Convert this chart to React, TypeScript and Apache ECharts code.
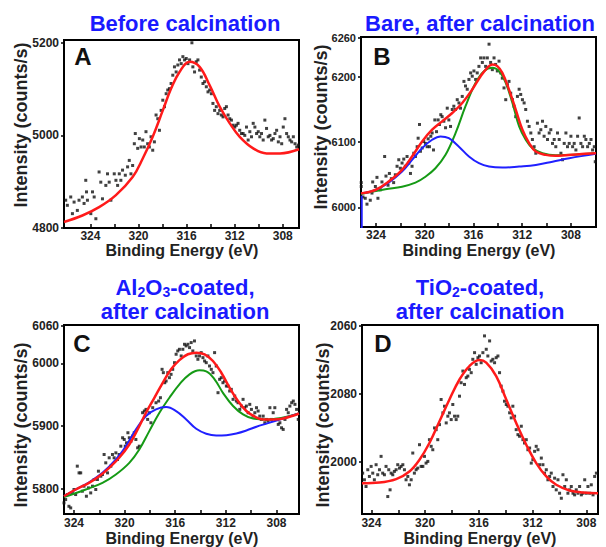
import React, { useEffect, useRef } from "react";
import * as echarts from "echarts";

// ---------- DATA ----------
const A_TITLE = "Before calcination";
const B_TITLE = "Bare, after calcination";
const C_TITLE = "{n|Al}{s|2}{n|O}{s|3}{n|-coated,}\n{n|after calcination}";
const D_TITLE = "{n|TiO}{s|2}{n|-coated,}\n{n|after calcination}";
const X_NAME = "Binding Energy (eV)";
const Y_NAME = "Intensity (counts/s)";
const LETTERS = ["A", "B", "C", "D"];

const X_LABEL_VALUES = [308, 312, 316, 320, 324];
const X_TICK_VALUES = [308, 310, 312, 314, 316, 318, 320, 322, 324];

const A_Y_TICKS = [4800, 5000, 5200];
const B_Y_TICKS = [6000, 6100, 6200, 6260];
const C_Y_TICKS = [5800, 5900, 6000, 6060];
const D_Y_TICK_VALUES = [2000, 2080, 2160];
const D_Y_TICK_LABELS = ["2000", "2080", "2060"];

const A_POINTS = [
  [326.06,4860],[325.92,4849],[325.64,4867],[325.5,4831],[325.36,4856],[325.09,4838],[324.95,4860],[324.67,4867],[324.53,4853],[324.39,4903],[324.33,4878],[324.25,4860],[323.97,4831],[323.83,4878],[323.69,4867],[323.55,4820],[323.28,4921],[323.14,4899],[323.0,4863],[322.72,4892],[322.58,4917],[322.44,4899],[322.3,4860],[322.02,4917],[321.88,4903],[321.74,4892],[321.6,4917],[321.47,4903],[321.33,4925],[321.1,4914],[320.91,4932],[320.77,4946],[320.63,4917],[320.49,4935],[320.35,4982],[320.27,5004],[320.07,4972],[319.93,4993],[319.79,4975],[319.65,4990],[319.52,4975],[319.38,5008],[319.24,4982],[319.1,4975],[318.96,4997],[318.82,4968],[318.68,4986],[318.54,5044],[318.4,5036],[318.26,5011],[318.12,5054],[317.98,5076],[317.84,5062],[317.7,5090],[317.57,5098],[317.43,5101],[317.29,5112],[317.15,5130],[317.01,5148],[316.87,5137],[316.73,5152],[316.59,5163],[316.45,5155],[316.31,5170],[316.17,5163],[316.03,5166],[315.89,5155],[315.75,5163],[315.56,5200],[315.48,5148],[315.34,5137],[315.2,5159],[315.06,5163],[314.92,5141],[314.78,5126],[314.64,5112],[314.5,5116],[314.36,5105],[314.22,5094],[314.08,5098],[313.94,5090],[313.81,5069],[313.67,5054],[313.53,5062],[313.39,5047],[313.25,5054],[313.11,5044],[312.97,5040],[312.83,5058],[312.69,5062],[312.55,5044],[312.41,5036],[312.27,5033],[312.13,5022],[311.99,5018],[311.86,5022],[311.72,5026],[311.58,5011],[311.44,5004],[311.3,5004],[311.16,5000],[311.02,5018],[310.88,4990],[310.74,5008],[310.6,4997],[310.46,5026],[310.32,5018],[310.18,5004],[310.04,5008],[309.91,4997],[309.77,5004],[309.63,4990],[309.49,5033],[309.35,5015],[309.21,4997],[309.07,5000],[308.93,4990],[308.79,4993],[308.65,5004],[308.51,5011],[308.37,4986],[308.23,4997],[308.09,4982],[307.96,5018],[307.82,5036],[307.68,5004],[307.54,4997],[307.4,4990],[307.26,4986],[307.12,4997],[306.98,4982],[306.84,4975],[306.7,4979]
];
const A_FIT = [
  [326.2,4813],[324.67,4827],[323.28,4845],[321.88,4871],[320.49,4910],[319.65,4950],[318.82,4997],[317.98,5054],[317.29,5101],[316.59,5137],[315.75,5159],[314.92,5148],[314.08,5108],[313.25,5062],[312.41,5026],[311.58,4997],[310.46,4972],[309.35,4961],[308.23,4961],[306.65,4970]
];

const B_POINTS = [
  [325.21,6038],[325.21,6032],[325.07,6016],[324.88,6014],[324.74,6005],[324.47,6011],[324.33,6022],[324.27,6039],[324.05,6032],[323.92,6046],[323.84,6014],[323.64,6027],[323.51,6039],[323.29,6078],[323.18,6048],[323.01,6034],[322.9,6052],[322.74,6044],[322.55,6038],[322.41,6050],[322.27,6063],[322.13,6073],[322.0,6060],[321.86,6068],[321.72,6074],[321.59,6063],[321.45,6078],[321.31,6068],[321.17,6052],[321.04,6063],[320.9,6083],[320.76,6078],[320.62,6093],[320.54,6106],[320.43,6127],[320.35,6086],[320.21,6091],[320.08,6101],[319.94,6098],[319.8,6093],[319.72,6105],[319.61,6093],[319.5,6109],[319.39,6114],[319.28,6088],[319.17,6134],[319.03,6116],[318.9,6134],[318.79,6127],[318.68,6142],[318.57,6139],[318.43,6132],[318.29,6122],[318.15,6152],[318.02,6134],[317.88,6124],[317.74,6150],[317.61,6155],[317.47,6150],[317.33,6165],[317.19,6160],[317.06,6152],[316.92,6170],[316.78,6193],[316.65,6186],[316.51,6181],[316.37,6196],[316.23,6206],[316.1,6201],[315.96,6209],[315.82,6196],[315.69,6206],[315.55,6216],[315.41,6229],[315.27,6222],[315.14,6229],[315.0,6216],[314.86,6229],[314.72,6250],[314.59,6222],[314.45,6211],[314.31,6229],[314.18,6219],[314.04,6209],[313.9,6224],[313.76,6206],[313.63,6198],[313.49,6183],[313.35,6165],[313.21,6188],[313.08,6193],[312.94,6175],[312.8,6165],[312.67,6155],[312.53,6139],[312.39,6170],[312.25,6181],[312.12,6173],[311.98,6165],[311.84,6160],[311.71,6150],[311.57,6132],[311.43,6124],[311.29,6114],[311.16,6104],[311.02,6093],[310.88,6083],[310.75,6129],[310.61,6114],[310.47,6119],[310.33,6132],[310.2,6109],[310.06,6124],[309.92,6104],[309.78,6114],[309.65,6119],[309.51,6098],[309.37,6104],[309.24,6093],[309.1,6114],[308.96,6104],[308.82,6083],[308.69,6073],[308.55,6098],[308.41,6114],[308.28,6093],[308.14,6098],[308.0,6109],[307.86,6093],[307.73,6098],[307.59,6088],[307.45,6109],[307.32,6137],[307.18,6098],[307.04,6093],[306.9,6109],[306.77,6104],[306.63,6093],[306.49,6098],[306.35,6104],[306.22,6088],[306.08,6093],[306.0,6070]
];
const B_RED = [
  [325.23,6021.5],[324.05,6026.7],[322.96,6039.5],[321.86,6057.4],[321.04,6078],[320.21,6101],[319.39,6119],[318.57,6131.8],[317.74,6144.6],[316.92,6160],[316.1,6180.5],[315.41,6201],[314.86,6213.8],[314.45,6219],[314.04,6216.4],[313.63,6206],[313.08,6180.5],[312.53,6149.7],[311.98,6119],[311.43,6098.5],[310.88,6085.6],[310.06,6080.5],[309.24,6079],[308.41,6080],[307.32,6081.5],[305.94,6083]
];
const B_GREEN = [
  [325.23,6020.5],[323.23,6027.7],[321.86,6031.8],[320.76,6038],[319.94,6047],[319.12,6060],[318.29,6080.5],[317.47,6113.8],[316.65,6155],[315.82,6190.8],[315.14,6208.7],[314.45,6213.8],[313.9,6208.7],[313.35,6190.8],[312.8,6160],[312.25,6124],[311.71,6103.6],[311.16,6090.8],[310.33,6083],[309.24,6080],[305.94,6083]
];
const B_BLUE = [
  [325.23,6021.5],[324.05,6026.7],[322.96,6038],[321.86,6054.9],[321.04,6072.8],[320.21,6090.8],[319.39,6103.6],[318.7,6108.7],[318.02,6106],[317.19,6093],[316.37,6078],[315.55,6067.7],[314.72,6062.6],[313.63,6061],[312.25,6062.6],[310.88,6065],[309.51,6070],[308.14,6075.4],[305.94,6082]
];
const B_BLUE_EDGE = [[325.17,5960],[325.17,6018]];

const C_POINTS = [
  [324.79,5777.7],[324.66,5783],[324.53,5791],[324.4,5772.3],[324.26,5769.7],[324.13,5793.6],[324.0,5799],[323.87,5791],[323.74,5836.2],[323.6,5825.5],[323.47,5825.5],[323.34,5796.3],[323.21,5804.3],[323.02,5788.3],[322.86,5801.6],[322.68,5793.6],[322.54,5804.3],[322.41,5814.9],[322.28,5799],[322.15,5814.9],[322.07,5828.2],[321.88,5820.2],[321.75,5822.9],[321.62,5854.8],[321.49,5841.5],[321.35,5825.5],[321.22,5849.5],[321.09,5836.2],[320.96,5854.8],[320.83,5849.5],[320.69,5857.4],[320.56,5846.8],[320.43,5854.8],[320.3,5868],[320.16,5881.4],[320.03,5878.7],[319.95,5868],[319.85,5873.4],[319.74,5889.4],[319.63,5881.4],[319.5,5876],[319.37,5884],[319.24,5889.4],[319.11,5878.7],[318.97,5865.4],[318.84,5868],[318.58,5921.3],[318.44,5924],[318.31,5926.6],[318.18,5910.6],[318.05,5921.3],[317.92,5905.3],[317.78,5929.3],[317.52,5937.2],[317.31,5939.9],[317.17,5945.2],[317.04,5990.4],[316.94,5985.1],[316.83,5969.1],[316.72,5971.8],[316.59,5985.1],[316.46,5977.1],[316.33,5982.4],[316.2,5990.4],[316.06,6001],[315.93,6014.4],[315.8,6019.7],[315.67,6022.3],[315.53,6011.7],[315.4,6022.3],[315.27,6030.3],[315.14,6027.7],[315.0,6030.3],[314.87,6025],[314.74,6033],[314.61,6019.7],[314.48,6035.6],[314.34,6011.7],[314.21,6006.4],[314.08,6011.7],[313.95,6017],[313.81,6009],[313.68,6003.7],[313.55,6001],[313.42,6011.7],[313.29,5995.7],[313.15,5990.4],[313.02,5985.1],[312.89,6017],[312.76,5995.7],[312.62,5953.2],[312.49,5974.5],[312.36,5977.1],[312.23,5969.1],[312.1,5971.8],[311.96,5963.8],[311.83,5963.8],[311.7,5955.9],[311.57,5958.5],[311.43,5942.6],[311.3,5947.9],[311.17,5939.9],[311.04,5937.2],[310.9,5926.6],[310.77,5931.9],[310.64,5942.6],[310.51,5929.3],[310.38,5931.9],[310.24,5921.3],[310.11,5934.6],[309.98,5926.6],[309.85,5915.9],[309.71,5921.3],[309.58,5929.3],[309.45,5924],[309.32,5915.9],[309.19,5910.6],[309.05,5915.9],[308.92,5905.3],[308.79,5910.6],[308.66,5908],[308.52,5929.3],[308.39,5910.6],[308.26,5921.3],[308.13,5929.3],[307.99,5910.6],[307.86,5902.7],[307.73,5905.3],[307.6,5897.3],[307.47,5894.7],[307.33,5910.6],[307.2,5926.6],[307.07,5921.3],[306.94,5931.9],[306.8,5937.2],[306.67,5939.9],[306.54,5934.6],[306.41,5926.6],[306.28,5910.6]
];
const C_RED = [
  [324.79,5788.3],[323.87,5799],[322.81,5809.6],[322.02,5820],[321.22,5833.5],[320.43,5849.5],[319.63,5870.7],[318.97,5894.7],[318.31,5921.3],[317.65,5945],[316.99,5969],[316.33,5990.4],[315.67,6005],[315.0,6014.4],[314.34,6017],[313.68,6014.4],[313.02,6003.7],[312.36,5985],[311.7,5961],[311.04,5940],[310.38,5924],[309.71,5915],[309.05,5910.6],[308.26,5910.6],[307.47,5912],[306.22,5920]
];
const C_GREEN = [
  [324.79,5787],[323.07,5799],[321.75,5809.6],[320.69,5823],[319.63,5841.5],[318.84,5862.8],[318.05,5892],[317.25,5921.3],[316.46,5945.2],[315.67,5966.5],[314.87,5982.4],[314.08,5988.8],[313.55,5987.2],[312.89,5974.5],[312.23,5953],[311.43,5932],[310.64,5918.6],[309.85,5912],[308.79,5910.6],[306.22,5920]
];
const C_BLUE = [
  [324.79,5788.3],[323.87,5799],[322.81,5810.6],[321.75,5825.5],[320.69,5846.8],[319.9,5868],[319.1,5894.7],[318.31,5916],[317.52,5926.6],[316.72,5930.3],[315.93,5924],[315.13,5910.6],[314.34,5895.7],[313.55,5887.8],[312.76,5885],[311.96,5885.6],[311.17,5888.3],[310.38,5893],[309.58,5899],[308.79,5904],[307.73,5910.6],[306.22,5920]
];

const D_POINTS = [
  [324.65,1987],[324.52,1979.2],[324.4,1971.3],[324.27,1991],[324.15,1983.1],[324.02,1994.9],[323.9,1987],[323.78,1979.2],[323.65,1996.9],[323.53,1985.1],[323.4,1991],[323.28,2006.7],[323.16,1987],[323.03,1985.1],[322.91,1994.9],[322.78,1959.5],[322.71,1991],[322.61,1967.4],[322.53,1987],[322.41,1985.1],[322.29,1989],[322.16,1991],[322.04,1996.9],[321.91,1992.9],[321.79,1994.9],[321.66,1996.9],[321.54,1991],[321.42,1979.2],[321.29,1983.1],[321.17,1973.3],[321.04,1979.2],[320.92,2010.6],[320.8,1987],[320.67,1991],[320.55,1992.9],[320.42,2020.4],[320.3,1994.9],[320.17,1994.9],[320.05,2006.7],[319.93,1998.8],[319.8,2000.8],[319.68,2026.3],[319.55,2018.5],[319.43,2014.5],[319.3,2040.1],[319.18,2038.1],[319.06,2026.3],[318.93,2044],[318.81,2073.5],[318.68,2057.8],[318.56,2065.6],[318.43,2046],[318.31,2053.9],[318.19,2057.8],[318.06,2049.9],[317.94,2067.6],[317.81,2053.9],[317.69,2049.9],[317.57,2053.9],[317.44,2077.4],[317.32,2093.2],[317.19,2106.9],[317.07,2091.2],[316.94,2099.1],[316.82,2101],[316.7,2108.9],[316.57,2105],[316.45,2120.7],[316.32,2128.5],[316.2,2114.8],[316.07,2122.6],[315.95,2124.6],[315.83,2116.7],[315.7,2128.5],[315.58,2148.2],[315.45,2132.5],[315.33,2124.6],[315.2,2142.3],[315.08,2118.7],[314.96,2120.7],[314.83,2116.7],[314.71,2122.6],[314.58,2124.6],[314.46,2105],[314.34,2089.2],[314.21,2083.3],[314.09,2071.5],[313.96,2067.6],[313.84,2065.6],[313.71,2057.8],[313.59,2051.9],[313.47,2065.6],[313.34,2053.9],[313.22,2038.1],[313.09,2032.2],[312.97,2030.3],[312.84,2042.1],[312.72,2026.3],[312.6,2022.4],[312.47,2026.3],[312.35,2014.5],[312.22,2016.5],[312.1,1998.8],[311.98,2002.8],[311.85,2012.6],[311.73,2018.5],[311.6,2014.5],[311.48,1996.9],[311.35,2004.7],[311.23,1996.9],[311.11,1987],[310.98,1991],[310.86,1979.2],[310.73,1983.1],[310.61,1987],[310.48,1971.3],[310.36,1981.1],[310.24,1967.4],[310.11,1979.2],[309.99,1963.4],[309.86,1957.5],[309.74,1985.1],[309.61,1971.3],[309.49,1979.2],[309.37,1963.4],[309.24,1967.4],[309.12,1971.3],[308.99,1963.4],[308.87,1961.5],[308.75,1967.4],[308.62,1963.4],[308.5,1971.3],[308.37,1961.5],[308.25,1963.4],[308.12,1979.2],[308.0,1963.4],[307.88,1971.3],[307.75,1963.4],[307.63,1973.3],[307.5,1961.5],[307.38,1983.1],[307.25,1987]
];
const D_RED = [
  [324.7,1975.2],[323.4,1976],[322.16,1980],[321.17,1989],[320.42,2002.8],[319.68,2022.4],[318.93,2048],[318.19,2073.5],[317.44,2097],[316.7,2112.8],[315.95,2119.9],[315.45,2116.7],[314.71,2101],[313.96,2073.5],[313.22,2046],[312.47,2020.4],[311.73,1998.8],[310.98,1983.1],[310.24,1973.3],[309.24,1966.6],[308.25,1964.2],[307.13,1963.4]
];

// ---------- STYLE ----------
const FONT = '"Liberation Sans", Arial, Helvetica, sans-serif';
const TITLE_BLUE = "#1a1aff";
const RED = "#ff1a1a";
const GREEN = "#159a15";
const BLUE = "#2020ff";

const GRIDS = [
  { left: 64, top: 40, width: 235, height: 188 },
  { left: 361, top: 37, width: 235, height: 190 },
  { left: 64, top: 325, width: 235, height: 189 },
  { left: 362, top: 325, width: 236, height: 189 },
];
const X_RANGES = [
  [306.65, 326.2],
  [305.94, 325.23],
  [306.22, 324.79],
  [307.13, 324.7],
];
const Y_RANGES = [
  [4800, 5206],
  [5970, 6261],
  [5760, 6061],
  [1939, 2161],
];
const Y_TICKS = [A_Y_TICKS, B_Y_TICKS, C_Y_TICKS, D_Y_TICK_VALUES];
const Y_LABEL_SIZES = [12, 11, 12, 12];

export default function App() {
  const ref = useRef<HTMLDivElement>(null);

  useEffect(() => {
    if (!ref.current) return;
    const chart = echarts.init(ref.current, null, { renderer: "svg" });

    const grid = GRIDS.map((g) => ({
      ...g,
      show: true,
      borderColor: "#000",
      borderWidth: 2,
      backgroundColor: "transparent",
      containLabel: false,
    }));

    const xAxis = X_RANGES.map((r, i) => ({
      type: "value",
      gridIndex: i,
      min: r[0],
      max: r[1],
      inverse: true,
      axisLine: { show: false },
      splitLine: { show: false },
      axisTick: {
        show: true,
        inside: true,
        length: 4,
        customValues: X_TICK_VALUES.filter((v) => v > r[0] && v < r[1]),
        lineStyle: { color: "#000", width: 1.5 },
      },
      axisLabel: {
        customValues: X_LABEL_VALUES.filter((v) => v >= r[0] && v <= r[1]),
        margin: i < 2 ? 2 : 3,
        fontSize: 12,
        lineHeight: 12,
        fontWeight: "bold",
        fontFamily: FONT,
        color: "#222",
        formatter: (v: number) => String(v),
      },
    }));

    const yAxis = Y_RANGES.map((r, i) => ({
      type: "value",
      gridIndex: i,
      min: r[0],
      max: r[1],
      axisLine: { show: false },
      splitLine: { show: false },
      axisTick: {
        show: true,
        inside: false,
        length: 3,
        customValues: Y_TICKS[i],
        lineStyle: { color: "#000", width: 1.5 },
      },
      axisLabel: {
        customValues: Y_TICKS[i],
        margin: 5,
        fontSize: Y_LABEL_SIZES[i],
        fontWeight: "bold",
        fontFamily: FONT,
        color: "#222",
        formatter: (v: number) => {
          if (i === 3) {
            const k = D_Y_TICK_VALUES.indexOf(v);
            return k >= 0 ? D_Y_TICK_LABELS[k] : String(v);
          }
          return String(v);
        },
      },
    }));

    const scatter = (data: number[][], i: number) => ({
      type: "scatter",
      xAxisIndex: i,
      yAxisIndex: i,
      data,
      symbol: "rect",
      symbolSize: 3,
      itemStyle: { color: "#111" },
      clip: true,
      z: 2,
    });
    const curve = (data: number[][], i: number, color: string, width: number, z: number, smooth: number | boolean = 0.4) => ({
      type: "line",
      xAxisIndex: i,
      yAxisIndex: i,
      data,
      showSymbol: false,
      symbol: "none",
      smooth,
      clip: true,
      lineStyle: { color, width },
      z,
    });

    const series = [
      scatter(A_POINTS, 0),
      curve(A_FIT, 0, RED, 2.5, 5),
      scatter(B_POINTS, 1),
      curve(B_GREEN, 1, GREEN, 2, 3),
      curve(B_BLUE, 1, BLUE, 2, 4),
      curve(B_BLUE_EDGE, 1, BLUE, 2, 4, false),
      curve(B_RED, 1, RED, 2.5, 5),
      scatter(C_POINTS, 2),
      curve(C_GREEN, 2, GREEN, 2, 3),
      curve(C_BLUE, 2, BLUE, 2, 4),
      curve(C_RED, 2, RED, 2.5, 5),
      scatter(D_POINTS, 3),
      curve(D_RED, 3, RED, 2.5, 5),
    ];

    const txt = (x: number, y: number, text: string, size: number, color: string, rotation = 0) => ({
      type: "text",
      x,
      y,
      rotation,
      z: 10,
      style: {
        text,
        fontSize: size,
        lineHeight: size,
        fontWeight: "bold",
        fontFamily: FONT,
        fill: color,
        align: "center",
        verticalAlign: "middle",
      },
    });
    const richTitle = (x: number, y: number, text: string) => ({
      type: "text",
      x,
      y,
      z: 10,
      style: {
        text,
        align: "center",
        verticalAlign: "middle",
        rich: {
          n: { fontSize: 22, fontWeight: "bold", fontFamily: FONT, fill: TITLE_BLUE, color: TITLE_BLUE, lineHeight: 24, align: "center" },
          s: { fontSize: 14, fontWeight: "bold", fontFamily: FONT, fill: TITLE_BLUE, color: TITLE_BLUE, lineHeight: 16, verticalAlign: "bottom" },
        },
      },
    });

    const graphic = [
      txt(185, 23, A_TITLE, 22, TITLE_BLUE),
      txt(480, 23, B_TITLE, 22, TITLE_BLUE),
      richTitle(185, 299, C_TITLE),
      richTitle(480, 299, D_TITLE),
      txt(83, 56, LETTERS[0], 24, "#111"),
      txt(382, 56, LETTERS[1], 24, "#111"),
      txt(82, 343, LETTERS[2], 24, "#111"),
      txt(383, 343, LETTERS[3], 24, "#111"),
      txt(182, 250, X_NAME, 16, "#222"),
      txt(479, 250, X_NAME, 16, "#222"),
      txt(182, 538, X_NAME, 16, "#222"),
      txt(480, 538, X_NAME, 16, "#222"),
      txt(21, 125, Y_NAME, 18, "#222", Math.PI / 2),
      txt(321, 127, Y_NAME, 18, "#222", Math.PI / 2),
      txt(21, 425, Y_NAME, 18, "#222", Math.PI / 2),
      txt(323, 425, Y_NAME, 18, "#222", Math.PI / 2),
    ];

    chart.setOption({
      animation: false,
      backgroundColor: "#fff",
      grid,
      xAxis,
      yAxis,
      series,
      graphic,
    } as any);

    return () => chart.dispose();
  }, []);

  return (
    <div
      ref={ref}
      style={{ position: "absolute", left: 0, top: 0, width: 606, height: 547 }}
    />
  );
}
